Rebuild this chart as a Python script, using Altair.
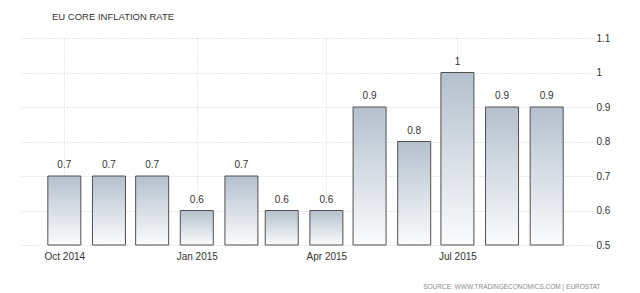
import altair as alt
import pandas as pd

months = ["2014-10-01", "2014-11-01", "2014-12-01", "2015-01-01", "2015-02-01", "2015-03-01",
          "2015-04-01", "2015-05-01", "2015-06-01", "2015-07-01", "2015-08-01", "2015-09-01"]
values = [0.7, 0.7, 0.7, 0.6, 0.7, 0.6, 0.6, 0.9, 0.8, 1.0, 0.9, 0.9]
y_ticks = [0.5, 0.6, 0.7, 0.8, 0.9, 1.0, 1.1]
x_ticks = ["2014-10-01", "2015-01-01", "2015-04-01", "2015-07-01"]

df = pd.DataFrame({"date": [m + "T00:00:00" for m in months], "value": values})

FONT = "Liberation Sans"

x_enc = alt.X(
    "date:T",
    scale=alt.Scale(domain=[alt.DateTime(year=2014, month=9, date=3),
                            alt.DateTime(year=2015, month=9, date=29)], nice=False),
    axis=alt.Axis(
        values=[alt.DateTime(year=int(d[:4]), month=int(d[5:7]), date=1) for d in x_ticks],
        format="%b %Y", title="SOURCE: WWW.TRADINGECONOMICS.COM | EUROSTAT",
        titleFont=FONT, titleFontSize=6.5, titleFontWeight="normal", titleColor="#8a8a8a",
        titleAnchor="end", titleAlign="right", titleX=581, titleY=38,
        labelFont=FONT, labelFontSize=10, labelColor="#333333", labelPadding=6,
        labelOverlap=False,
        ticks=False, domain=False, grid=True, gridColor="#cfcfcf", gridDash=[1, 2],
    ),
)

y_enc = alt.Y(
    "value:Q",
    scale=alt.Scale(domain=[0.5, 1.1], zero=False, nice=False),
    axis=alt.Axis(
        orient="right", values=y_ticks, format=".1~f", title=None,
        labelFont=FONT, labelFontSize=10, labelColor="#333333", labelPadding=4,
        labelOverlap=False,
        ticks=False, domain=False, grid=True, gridColor="#cfcfcf", gridDash=[1, 2],
    ),
)

gradient = alt.LinearGradient(
    gradient="linear", x1=0, x2=0, y1=0, y2=1,
    stops=[alt.GradientStop(color="#b4c0cd", offset=0),
           alt.GradientStop(color="#fbfcfd", offset=1)],
)

base = alt.Chart(df).encode(x=x_enc, y=y_enc)

bars = base.mark_bar(width=33, color=gradient, stroke="#505050", strokeWidth=1).encode(
    y2=alt.datum(0.5)
)

labels = base.mark_text(
    font=FONT, fontSize=10, color="#333333", baseline="bottom", dy=-6
).encode(
    text=alt.Text("value:Q", format="~g"),
)

chart = (bars + labels).properties(
    width=573, height=207,
    autosize=alt.AutoSizeParams(type="none"),
    padding={"left": 19, "top": 38, "right": 48, "bottom": 48},
    title=alt.TitleParams(
        "EU CORE INFLATION RATE", anchor="start", frame="group", dx=33, offset=4,
        baseline="alphabetic", font=FONT, fontSize=9.5, fontWeight="normal", color="#333333",
    ),
).configure_view(stroke=None)

chart.save("out.html", embed_options={"renderer": "svg", "actions": False})
